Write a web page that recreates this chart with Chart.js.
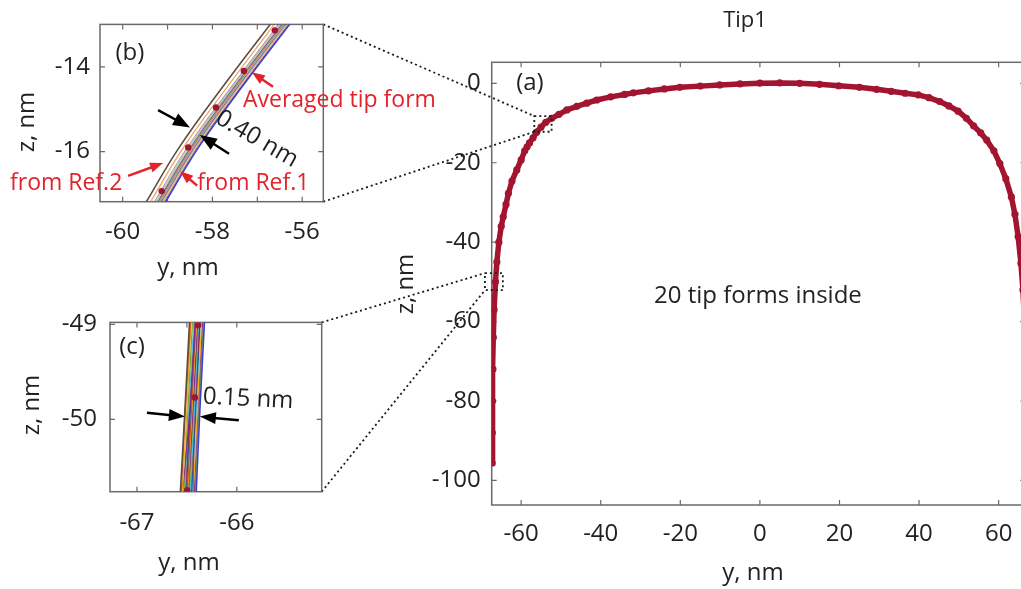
<!DOCTYPE html>
<html>
<head>
<meta charset="utf-8">
<script src="https://cdn.jsdelivr.net/npm/chart.js@4.4.1/dist/chart.umd.min.js"></script>
<style>
  html, body { margin: 0; padding: 0; background: #fff; overflow: hidden; }
  #wrap { position: relative; width: 1021px; height: 589px; overflow: hidden; }
  #wrap canvas { position: absolute; }
</style>
</head>
<body>
<div id="wrap">
  <canvas id="mainChart" width="1060" height="589" style="left:0;top:0"></canvas>
  <canvas id="insetB" width="480" height="290" style="left:0;top:0"></canvas>
  <canvas id="insetC" width="340" height="294" style="left:0;top:295px"></canvas>
</div>
<script>
// averaged tip profile (a): lateral position y and height z, nm
const tipY = [-67.3, -67.25, -67.2, -67.1, -67.0, -66.8, -66.45, -66.1, -65.6, -65.0, -64.5, -63.8, -63.2, -62.3,
  -61.1, -60.0, -59.1, -58.5, -57.9, -57.0, -56.1, -55.0, -53.8, -52.3, -50.5, -48.5, -46.0, -43.5, -41.0, -37.5,
  -34.0, -31.8, -28.0, -24.0, -20.1, -15.0, -10.1, -5.0, 0.0, 5.0, 10.0, 15.0, 19.8, 25.0, 29.3, 33.0, 36.5, 39.8,
  42.5, 45.2, 47.5, 49.8, 51.9, 53.7, 55.5, 57.0, 58.8, 60.3, 61.8, 63.2, 64.1, 64.9, 65.6, 66.1, 66.5, 66.8, 67.0,
  67.2, 67.3];
const tipZ = [-95.6, -88, -80, -72, -64, -57, -50, -45, -40, -36, -33.6, -30.5, -27.7, -24.6,
  -21.8, -19.3, -17.0, -16.0, -15.0, -13.7, -12.3, -11.0, -9.8, -8.8, -7.8, -6.7, -5.8, -5.0, -4.2, -3.4,
  -2.8, -2.4, -1.9, -1.4, -1.0, -0.7, -0.4, -0.15, 0.05, 0.1, 0.0, -0.25, -0.6, -1.0, -1.5, -2.0, -2.5, -2.9,
  -3.6, -4.6, -5.7, -7.0, -8.8, -10.7, -12.5, -14.3, -17.0, -20.2, -24.0, -28.6, -33.0, -38.6, -45.3, -52, -60, -70, -80,
  -90, -95.6];
const mainTicksX = [-60, -40, -20, 0, 20, 40, 60];
const mainTicksZ = [-100, -80, -60, -40, -20, 0];

// inset (b): 20 tip forms sampled at a few heights
const bLevelsZ = [-17.3, -15.9, -14.4, -12.9];
const bFormsY = [
  [-59.54, -58.74, -57.72, -56.64],
  [-59.45, -58.65, -57.62, -56.56],
  [-59.43, -58.63, -57.61, -56.53],
  [-59.36, -58.56, -57.53, -56.46],
  [-59.33, -58.53, -57.51, -56.43],
  [-59.31, -58.51, -57.49, -56.41],
  [-59.29, -58.49, -57.47, -56.39],
  [-59.28, -58.48, -57.46, -56.38],
  [-59.27, -58.47, -57.45, -56.37],
  [-59.26, -58.46, -57.44, -56.36],
  [-59.25, -58.45, -57.43, -56.35],
  [-59.24, -58.44, -57.42, -56.34],
  [-59.23, -58.43, -57.41, -56.33],
  [-59.21, -58.41, -57.39, -56.31],
  [-59.20, -58.40, -57.38, -56.30],
  [-59.18, -58.38, -57.36, -56.28],
  [-59.16, -58.36, -57.34, -56.26],
  [-59.14, -58.34, -57.32, -56.24],
  [-59.13, -58.33, -57.31, -56.23],
  [-59.11, -58.31, -57.29, -56.21]
];
const bAvgY = [-59.13, -58.54, -57.92, -57.30, -56.61];
const bAvgZ = [-16.93, -15.90, -14.96, -14.10, -13.14];
const bMarksX = [-60, -59, -58, -57, -56];
const bTicksX = [-60, -58, -56];
const bTicksZ = [-16, -14];

// inset (c): the same 20 forms lower on the flank
const cLevelsZ = [-50.85, -49.9, -48.9];
const cFormsY = [
  [-66.57, -66.52, -66.47],
  [-66.56, -66.515, -66.46],
  [-66.55, -66.50, -66.455],
  [-66.55, -66.47, -66.41],
  [-66.53, -66.49, -66.44],
  [-66.525, -66.48, -66.425],
  [-66.52, -66.47, -66.42],
  [-66.51, -66.465, -66.415],
  [-66.50, -66.455, -66.405],
  [-66.495, -66.45, -66.40],
  [-66.49, -66.44, -66.39],
  [-66.48, -66.435, -66.385],
  [-66.47, -66.425, -66.38],
  [-66.465, -66.42, -66.37],
  [-66.455, -66.41, -66.365],
  [-66.44, -66.42, -66.37],
  [-66.44, -66.395, -66.35],
  [-66.43, -66.39, -66.34],
  [-66.42, -66.38, -66.33],
  [-66.41, -66.37, -66.32]
];
const cAvgY = [-66.497, -66.42, -66.387];
const cAvgZ = [-50.745, -49.77, -49.01];
const cMarksX = [-67, -66.5, -66];
const cTicksX = [-67, -66];
const cTicksZ = [-50, -49];

const FONT = "'Open Sans', sans-serif";
const INK = '#222';
const RED = '#e3232b';
const DARKRED = '#a2142f';
const formColors = ['#0072bd', '#d95319', '#edb120', '#7e2f8e', '#77ac30', '#4dbeee', '#a2142f'];

Chart.defaults.font.family = FONT;
Chart.defaults.color = INK;

function pts(xs, ys) { return xs.map((x, i) => ({ x: x, y: ys[i] })); }

// box with inward tick marks, drawn under the data
const framePlugin = {
  id: 'frame',
  beforeDatasetsDraw(chart) {
    const ctx = chart.ctx, a = chart.chartArea, sx = chart.scales.x, sy = chart.scales.y;
    ctx.save();
    ctx.strokeStyle = '#6a6a6a';
    ctx.lineWidth = 1.5;
    ctx.strokeRect(a.left, a.top, a.right - a.left, a.bottom - a.top);
    ctx.lineWidth = 1.2;
    ctx.beginPath();
    sx.ticks.forEach(t => {
      const x = sx.getPixelForValue(t.value);
      ctx.moveTo(x, a.bottom); ctx.lineTo(x, a.bottom - 5);
      ctx.moveTo(x, a.top); ctx.lineTo(x, a.top + 5);
    });
    sy.ticks.forEach(t => {
      const y = sy.getPixelForValue(t.value);
      ctx.moveTo(a.left, y); ctx.lineTo(a.left + 5, y);
      ctx.moveTo(a.right, y); ctx.lineTo(a.right - 5, y);
    });
    ctx.stroke();
    ctx.restore();
  }
};

function drawArrow(ctx, x0, y0, x1, y1, color, lw, hl, hw) {
  const ang = Math.atan2(y1 - y0, x1 - x0);
  ctx.strokeStyle = color;
  ctx.fillStyle = color;
  ctx.lineWidth = lw;
  ctx.beginPath();
  ctx.moveTo(x0, y0);
  ctx.lineTo(x1 - Math.cos(ang) * hl * 0.7, y1 - Math.sin(ang) * hl * 0.7);
  ctx.stroke();
  ctx.save();
  ctx.translate(x1, y1);
  ctx.rotate(ang);
  ctx.beginPath();
  ctx.moveTo(0, 0);
  ctx.lineTo(-hl, -hw / 2);
  ctx.lineTo(-hl, hw / 2);
  ctx.closePath();
  ctx.fill();
  ctx.restore();
}

// text and arrows; data coordinates unless px is set
function notesPlugin(notes) {
  return {
    id: 'notes',
    afterDraw(chart) {
      const ctx = chart.ctx, sx = chart.scales.x, sy = chart.scales.y;
      const at = (p, x, y) => p.px ? [x, y] : [sx.getPixelForValue(x), sy.getPixelForValue(y)];
      ctx.save();
      (notes.arrows || []).forEach(a => {
        const [x0, y0] = at(a, a.x0, a.y0);
        const [x1, y1] = at(a, a.x1, a.y1);
        drawArrow(ctx, x0, y0, x1, y1, a.color || '#000', a.lw || 2.5, a.hl || 14, a.hw || 11);
      });
      (notes.texts || []).forEach(t => {
        const [x, y] = at(t, t.x, t.y);
        ctx.save();
        ctx.translate(x, y);
        ctx.rotate((t.rot || 0) * Math.PI / 180);
        ctx.font = (t.size || 24) + 'px ' + FONT;
        ctx.fillStyle = t.color || INK;
        ctx.textAlign = t.align || 'center';
        ctx.textBaseline = 'middle';
        ctx.fillText(t.text, 0, 0);
        ctx.restore();
      });
      ctx.restore();
    }
  };
}

function axes(o) {
  return {
    x: {
      type: 'linear', min: o.xMin, max: o.xMax,
      grid: { display: false, drawTicks: false }, border: { display: false },
      afterBuildTicks: s => { s.ticks = o.xMarks.map(v => ({ value: v })); },
      afterFit: s => { s.height = o.xHeight; },
      ticks: {
        autoSkip: false, maxRotation: 0, padding: o.xPad, font: { size: 24 }, color: INK,
        callback: v => o.xLabels.includes(v) ? String(v) : ''
      }
    },
    y: {
      type: 'linear', min: o.yMin, max: o.yMax,
      grid: { display: false, drawTicks: false }, border: { display: false },
      afterBuildTicks: s => { s.ticks = o.yMarks.map(v => ({ value: v })); },
      afterFit: s => { s.width = o.yWidth; },
      ticks: {
        autoSkip: false, padding: o.yPad, font: { size: 24 }, color: INK,
        callback: v => o.yLabels.includes(v) ? String(v) : ''
      }
    }
  };
}

// the two reference forms sit on the band edges, the rest in between
function formSets(levels, forms, soft) {
  const last = forms.length - 1;
  return forms.map((row, i) => {
    const edge = i === 0 || i === last;
    return {
      data: pts(row, levels),
      showLine: true,
      tension: 0.4,
      borderColor: i === 0 ? '#5b5040' : (i === last ? '#3a3fd0' : formColors[i % formColors.length] + (soft ? '99' : '')),
      borderWidth: edge ? 1.6 : (soft ? 1 : 1.3),
      pointRadius: 0,
      order: edge ? 1 : 2
    };
  });
}

function avgSet(ys, zs) {
  return {
    data: pts(ys, zs), showLine: false, order: 0,
    pointRadius: 3.2, pointBackgroundColor: DARKRED, pointBorderWidth: 0
  };
}

const common = {
  responsive: false, animation: false,
  plugins: { legend: { display: false }, tooltip: { enabled: false }, title: { display: false } }
};

// inset (b)
const chartB = new Chart(document.getElementById('insetB'), {
  type: 'scatter',
  data: { datasets: formSets(bLevelsZ, bFormsY, true).concat([avgSet(bAvgY, bAvgZ)]) },
  options: Object.assign({}, common, {
    layout: { padding: { left: 0, top: 19, right: 156.7, bottom: 0 } },
    scales: axes({ xMin: -60.505, xMax: -55.53, xMarks: bMarksX, xLabels: bTicksX, xHeight: 88.3, xPad: 16,
      yMin: -17.18, yMax: -13.0, yMarks: bTicksZ, yLabels: bTicksZ, yWidth: 100, yPad: 10 })
  }),
  plugins: [framePlugin, notesPlugin({
    arrows: [
      { x0: -59.21, y0: -15.02, x1: -58.50, y1: -15.43, lw: 2.5, hl: 17, hw: 13 },
      { x0: -57.63, y0: -16.05, x1: -58.28, y1: -15.61, lw: 2.5, hl: 17, hw: 13 },
      { x0: -56.65, y0: -14.47, x1: -57.12, y1: -14.13, color: RED, lw: 2.5, hl: 13, hw: 10 },
      { x0: -59.88, y0: -16.57, x1: -59.10, y1: -16.27, color: RED, lw: 2.5, hl: 13, hw: 10 },
      { x0: -58.34, y0: -16.80, x1: -58.72, y1: -16.46, color: RED, lw: 2.5, hl: 13, hw: 10 }
    ],
    texts: [
      { text: '(b)', x: -59.84, y: -13.67 },
      { text: '0.40 nm', x: -57.01, y: -15.70, rot: 30 },
      { text: 'Averaged tip form', x: -57.32, y: -14.79, align: 'left', color: RED, size: 23 },
      { text: 'from Ref.2', x: -62.51, y: -16.75, align: 'left', color: RED, size: 23 },
      { text: 'from Ref.1', x: -58.34, y: -16.75, align: 'left', color: RED, size: 23 },
      { text: 'z, nm', x: 27, y: 122, rot: -90, px: true },
      { text: 'y, nm', x: 188, y: 268, px: true }
    ]
  })]
});

// inset (c)
const chartC = new Chart(document.getElementById('insetC'), {
  type: 'scatter',
  data: { datasets: formSets(cLevelsZ, cFormsY, false).concat([avgSet(cAvgY, cAvgZ)]) },
  options: Object.assign({}, common, {
    layout: { padding: { left: 0, top: 21.7, right: 18.3, bottom: 0 } },
    scales: axes({ xMin: -67.27, xMax: -65.15, xMarks: cMarksX, xLabels: cTicksX, xHeight: 97.3, xPad: 17,
      yMin: -50.76, yMax: -48.98, yMarks: cTicksZ, yLabels: cTicksZ, yWidth: 110, yPad: 13 })
  }),
  plugins: [framePlugin, notesPlugin({
    arrows: [
      { x0: -66.90, y0: -49.93, x1: -66.52, y1: -49.97, lw: 2.5, hl: 16, hw: 12 },
      { x0: -65.98, y0: -50.01, x1: -66.37, y1: -49.97, lw: 2.5, hl: 16, hw: 12 }
    ],
    texts: [
      { text: '(c)', x: -67.05, y: -49.24 },
      { text: '0.15 nm', x: -66.34, y: -49.76, align: 'left', rot: 3 },
      { text: 'z, nm', x: 32, y: 110, rot: -90, px: true },
      { text: 'y, nm', x: 189, y: 268, px: true }
    ]
  })]
});

// zoomed regions of (a), joined to the inset boxes by dotted lines
const zoomBoxes = [
  { y0: -56.7, y1: -52.35, z0: -12.19, z1: -8.24, inset: chartB },
  { y0: -69.1, y1: -64.6, z0: -52.1, z1: -47.8, inset: chartC }
];

const connectorPlugin = {
  id: 'connectors',
  afterDraw(chart) {
    const ctx = chart.ctx, sx = chart.scales.x, sy = chart.scales.y;
    ctx.save();
    ctx.strokeStyle = '#1a1a1a';
    ctx.lineWidth = 1.8;
    ctx.setLineDash([2, 3]);
    zoomBoxes.forEach(b => {
      const l = sx.getPixelForValue(b.y0), r = sx.getPixelForValue(b.y1);
      const t = sy.getPixelForValue(b.z1), btm = sy.getPixelForValue(b.z0);
      ctx.strokeRect(l, t, r - l, btm - t);
      const c = b.inset.canvas, ia = b.inset.chartArea;
      ctx.beginPath();
      ctx.moveTo(c.offsetLeft + ia.right, c.offsetTop + ia.top);
      ctx.lineTo(l, t);
      ctx.moveTo(c.offsetLeft + ia.right, c.offsetTop + ia.bottom);
      ctx.lineTo(l, btm);
      ctx.stroke();
    });
    ctx.restore();
  }
};

// main profile (a)
new Chart(document.getElementById('mainChart'), {
  type: 'scatter',
  data: {
    datasets: [{
      data: pts(tipY, tipZ),
      showLine: true,
      borderColor: DARKRED,
      borderWidth: 5.5,
      pointRadius: 3.6,
      pointBackgroundColor: DARKRED,
      pointBorderWidth: 0
    }]
  },
  options: Object.assign({}, common, {
    layout: { padding: { left: 388, top: 62.3, right: 34.7, bottom: 0 } },
    scales: axes({ xMin: -67.4, xMax: 66.7, xMarks: mainTicksX, xLabels: mainTicksX, xHeight: 84, xPad: 15,
      yMin: -106.2, yMax: 5.3, yMarks: mainTicksZ, yLabels: mainTicksZ, yWidth: 103.7, yPad: 11 })
  }),
  plugins: [framePlugin, connectorPlugin, notesPlugin({
    texts: [
      { text: '(a)', x: -57.8, y: 0.05 },
      { text: '20 tip forms inside', x: -0.5, y: -53.5 },
      { text: 'Tip1', x: 745, y: 21, size: 22, px: true },
      { text: 'z, nm', x: 406, y: 284, rot: -90, px: true },
      { text: 'y, nm', x: 753, y: 573, px: true }
    ]
  })]
});
</script>
</body>
</html>
